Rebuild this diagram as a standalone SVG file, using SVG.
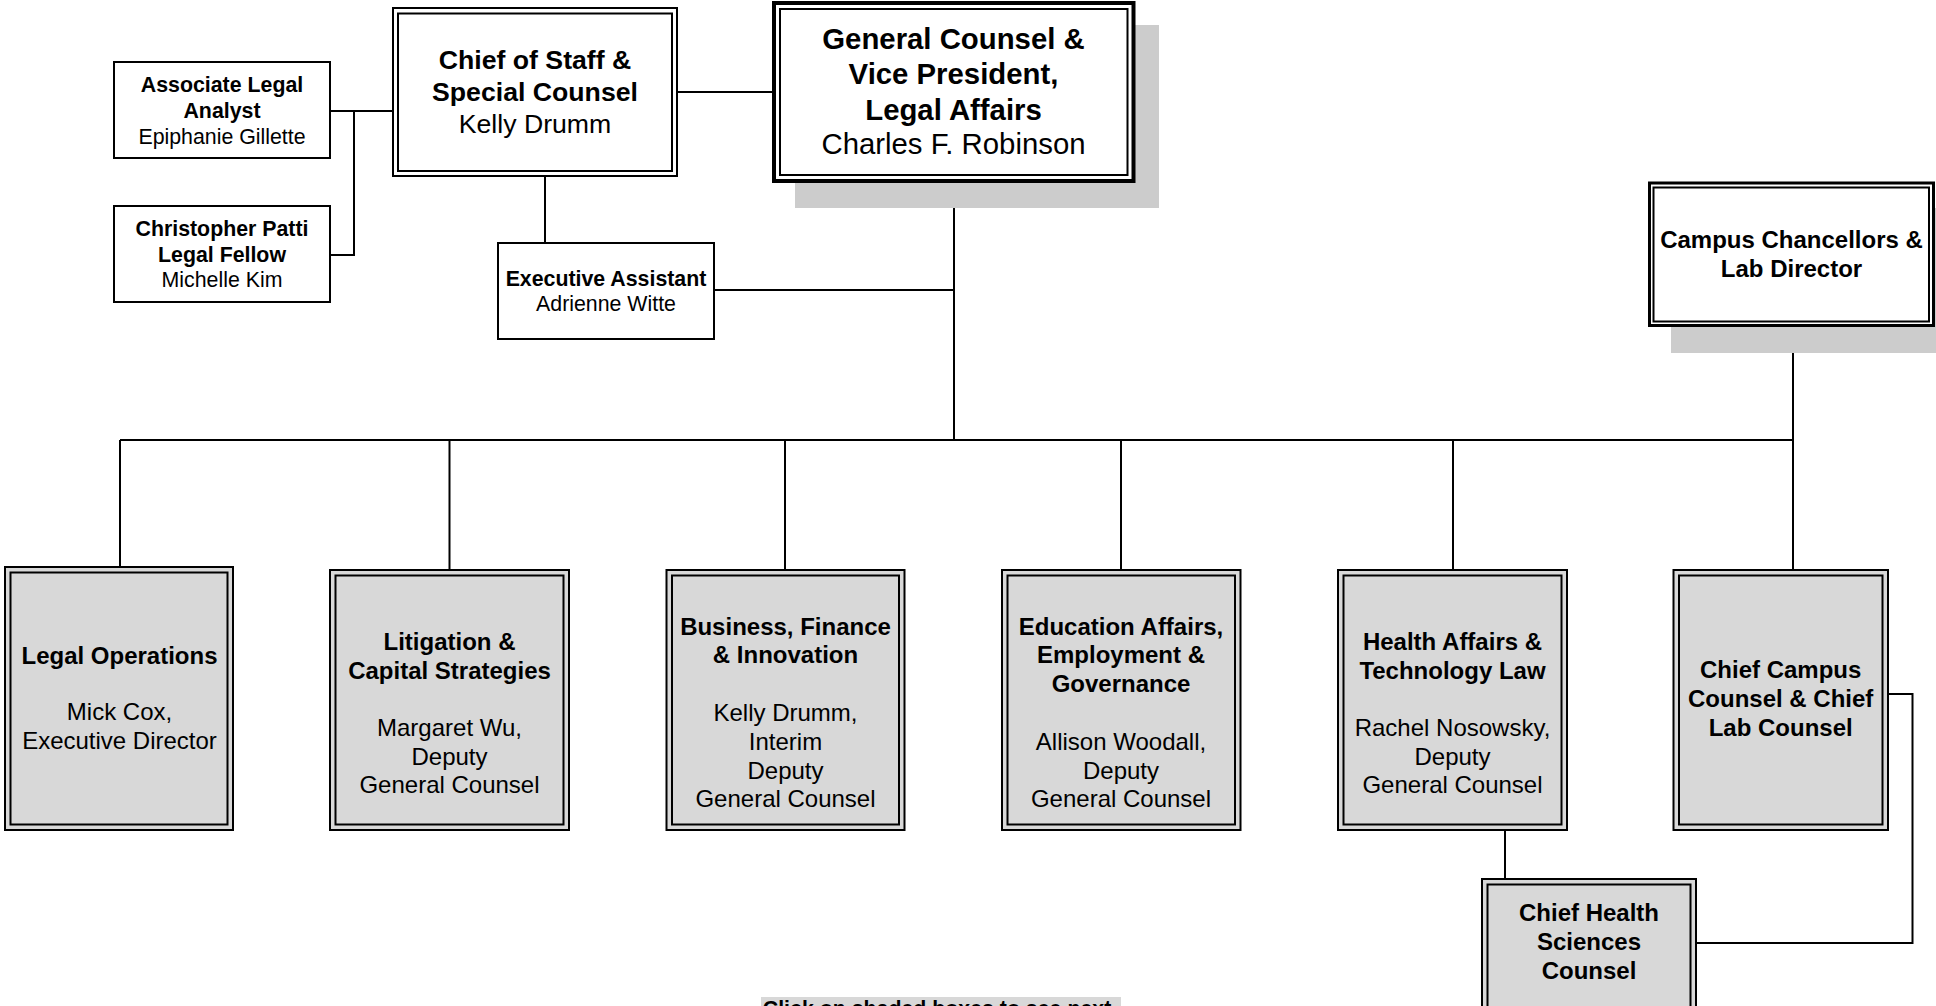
<svg xmlns="http://www.w3.org/2000/svg" width="1936" height="1006" viewBox="0 0 1936 1006">
<style>
text{font-family:"Liberation Sans",Arial,sans-serif;fill:#000;text-anchor:middle}
.b{font-weight:bold}
.f29{font-size:29.33px}
.f27{font-size:26.67px}
.f24{font-size:24px}
.f21{font-size:21.33px}
.single{fill:#fff;stroke:#000;stroke-width:2}
.wo{fill:#fff;stroke:#000;stroke-width:2}
.wi{fill:none;stroke:#000;stroke-width:2}
.go{fill:#d8d8d8;stroke:#000;stroke-width:2}
.gi{fill:none;stroke:#000;stroke-width:2}
.shadow{fill:#cccccc}
.conn line,.conn polyline{stroke:#000;stroke-width:2;fill:none}
</style>
<rect width="1936" height="1006" fill="#fff"/>

<g class="conn" id="connectors">
<line x1="678" y1="92" x2="772" y2="92"/>
<polyline points="330,111 354,111 354,255 330,255"/>
<line x1="354" y1="111" x2="393" y2="111"/>
<line x1="545" y1="177" x2="545" y2="243"/>
<line x1="714" y1="290" x2="954" y2="290"/>
<line x1="954" y1="183" x2="954" y2="440"/>
<line x1="120" y1="440" x2="1793" y2="440"/>
<line x1="1793" y1="327" x2="1793" y2="569"/>
<line x1="120" y1="440" x2="120" y2="566"/>
<line x1="449.5" y1="440" x2="449.5" y2="569"/>
<line x1="785" y1="440" x2="785" y2="569"/>
<line x1="1121" y1="440" x2="1121" y2="569"/>
<line x1="1453" y1="440" x2="1453" y2="569"/>
<line x1="1505" y1="831" x2="1505" y2="878"/>
<polyline points="1889,694 1912.5,694 1912.5,943 1697,943"/>
</g>

<g id="assoc-legal-analyst">
<rect class="single" x="114" y="62" width="216" height="96"/>
<text class="b f21" x="222" y="91.5">Associate Legal</text>
<text class="b f21" x="222" y="117.5">Analyst</text>
<text class="f21" x="222" y="143.5">Epiphanie Gillette</text>
</g>

<g id="legal-fellow">
<rect class="single" x="114" y="206" width="216" height="96"/>
<text class="b f21" x="222" y="236">Christopher Patti</text>
<text class="b f21" x="222" y="261.5">Legal Fellow</text>
<text class="f21" x="222" y="287">Michelle Kim</text>
</g>

<g id="chief-of-staff">
<rect class="wo" x="393" y="8" width="284" height="168"/>
<rect class="wi" x="398" y="13.5" width="274" height="157.5"/>
<text class="b f27" x="535" y="68.5">Chief of Staff &amp;</text>
<text class="b f27" x="535" y="101">Special Counsel</text>
<text class="f27" x="535" y="133">Kelly Drumm</text>
</g>

<g id="executive-assistant">
<rect class="single" x="498" y="243" width="216" height="96"/>
<text class="b f21" x="606" y="285.5">Executive Assistant</text>
<text class="f21" x="606" y="311">Adrienne Witte</text>
</g>

<g id="general-counsel">
<rect class="shadow" x="795" y="25" width="364" height="183"/>
<rect fill="#fff" stroke="#000" stroke-width="4" x="774" y="3" width="359.5" height="178"/>
<rect class="wi" x="780" y="9" width="347.5" height="166"/>
<text class="b f29" x="953.5" y="49">General Counsel &amp;</text>
<text class="b f29" x="953.5" y="84">Vice President,</text>
<text class="b f29" x="953.5" y="119.5">Legal Affairs</text>
<text class="f29" x="953.5" y="154">Charles F. Robinson</text>
</g>

<g id="campus-chancellors">
<rect class="shadow" x="1671" y="208" width="270" height="145"/>
<rect fill="#fff" stroke="#000" stroke-width="3" x="1649.5" y="183" width="284" height="142.5"/>
<rect class="wi" x="1653.5" y="187.5" width="275.5" height="134"/>
<text class="b f24" x="1791.5" y="247.5">Campus Chancellors &amp;</text>
<text class="b f24" x="1791.5" y="276.5">Lab Director</text>
</g>

<g id="legal-operations">
<rect class="go" x="5" y="567" width="228" height="263"/>
<rect class="gi" x="10.5" y="572.5" width="217" height="252"/>
<text class="b f24" x="119.5" y="663.5">Legal Operations</text>
<text class="f24" x="119.5" y="720">Mick Cox,</text>
<text class="f24" x="119.5" y="749">Executive Director</text>
</g>

<g id="litigation">
<rect class="go" x="330" y="570" width="239" height="260"/>
<rect class="gi" x="335.5" y="575.5" width="228" height="249"/>
<text class="b f24" x="449.5" y="650">Litigation &amp;</text>
<text class="b f24" x="449.5" y="678.5">Capital Strategies</text>
<text class="f24" x="449.5" y="736">Margaret Wu,</text>
<text class="f24" x="449.5" y="764.5">Deputy</text>
<text class="f24" x="449.5" y="793">General Counsel</text>
</g>

<g id="business-finance">
<rect class="go" x="666.5" y="570" width="238" height="260"/>
<rect class="gi" x="672" y="575.5" width="227" height="249"/>
<text class="b f24" x="785.5" y="634.5">Business, Finance</text>
<text class="b f24" x="785.5" y="663.3">&amp; Innovation</text>
<text class="f24" x="785.5" y="721">Kelly Drumm,</text>
<text class="f24" x="785.5" y="749.8">Interim</text>
<text class="f24" x="785.5" y="778.6">Deputy</text>
<text class="f24" x="785.5" y="807.4">General Counsel</text>
</g>

<g id="education-affairs">
<rect class="go" x="1002" y="570" width="238.5" height="260"/>
<rect class="gi" x="1007.5" y="575.5" width="227.5" height="249"/>
<text class="b f24" x="1121" y="634.5">Education Affairs,</text>
<text class="b f24" x="1121" y="663.3">Employment &amp;</text>
<text class="b f24" x="1121" y="692">Governance</text>
<text class="f24" x="1121" y="749.8">Allison Woodall,</text>
<text class="f24" x="1121" y="778.6">Deputy</text>
<text class="f24" x="1121" y="807.4">General Counsel</text>
</g>

<g id="health-affairs">
<rect class="go" x="1338" y="570" width="229" height="260"/>
<rect class="gi" x="1343.5" y="575.5" width="218" height="249"/>
<text class="b f24" x="1452.5" y="650">Health Affairs &amp;</text>
<text class="b f24" x="1452.5" y="678.5">Technology Law</text>
<text class="f24" x="1452.5" y="736">Rachel Nosowsky,</text>
<text class="f24" x="1452.5" y="764.5">Deputy</text>
<text class="f24" x="1452.5" y="793">General Counsel</text>
</g>

<g id="chief-campus-counsel">
<rect class="go" x="1673.5" y="570" width="214.5" height="260"/>
<rect class="gi" x="1679" y="575.5" width="203.5" height="249"/>
<text class="b f24" x="1780.7" y="677.6">Chief Campus</text>
<text class="b f24" x="1780.7" y="707">Counsel &amp; Chief</text>
<text class="b f24" x="1780.7" y="735.6">Lab Counsel</text>
</g>

<g id="chief-health-sciences-counsel">
<rect class="go" x="1482" y="879" width="214" height="140"/>
<rect class="gi" x="1487.5" y="884.5" width="203" height="130"/>
<text class="b f24" x="1589" y="921">Chief Health</text>
<text class="b f24" x="1589" y="950">Sciences</text>
<text class="b f24" x="1589" y="978.5">Counsel</text>
</g>

<g id="footer-note">
<rect fill="#d8d8d8" x="761" y="997" width="360" height="20"/>
<text class="b f21" x="937" y="1016">Click on shaded boxes to see next</text>
</g>
</svg>
